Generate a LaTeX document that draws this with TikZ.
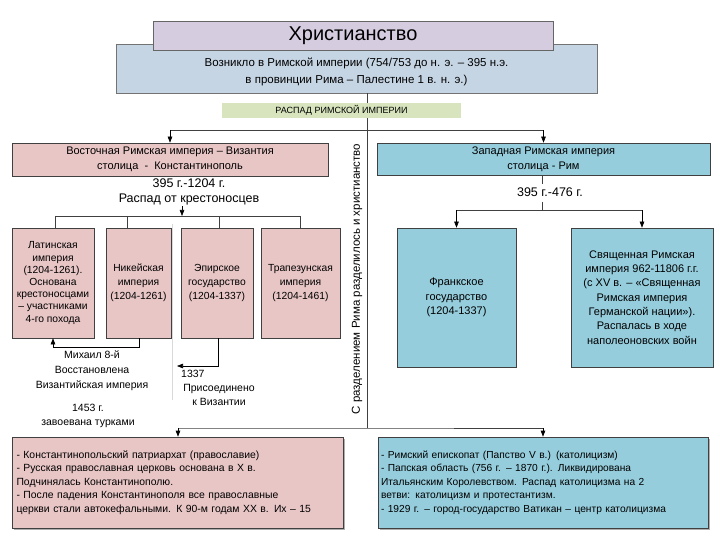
\documentclass[tikz,border=0pt]{standalone}
\usepackage{fontspec}
\setmainfont{Liberation Sans}
\usetikzlibrary{arrows.meta,shadows}
\definecolor{lav}{HTML}{D5CCE0}
\definecolor{topblue}{HTML}{C6D5E4}
\definecolor{grn}{HTML}{D7E4BD}
\definecolor{pnk}{HTML}{E9C6C6}
\definecolor{wblue}{HTML}{95CDDC}
\definecolor{edge}{HTML}{404040}
\begin{document}
\begin{tikzpicture}[x=1pt,y=-1pt,
  box/.style={draw=edge,line width=0.6pt,inner sep=2pt,align=center},
  pinkbox/.style={box,fill=pnk},
  bluebox/.style={box,fill=wblue},
  shadowbox/.style={drop shadow={shadow xshift=2pt,shadow yshift=-2pt,opacity=0.45,fill=black!70}},
  conn/.style={draw=edge,line width=0.6pt},
  arr/.style={draw=black,line width=0.6pt,-{Triangle[length=6pt,width=4.5pt]}},
  lbl/.style={align=center,inner sep=1pt}]
\useasboundingbox (0,0) rectangle (720,540);

% top
\node[box,fill=topblue,draw=black!55,minimum width=481pt,minimum height=49pt] (orig) at (356.5,68.5) {};
\node[lbl,font=\fontsize{11.5}{17}\selectfont] (origtxt) at (356.5,72)
  {Возникло в Римской империи (754/753 до н. э. – 395 н.э.\\в провинции Рима – Палестине 1 в. н. э.)};
\node[box,fill=lav,draw=black!60,minimum width=400pt,minimum height=29pt,
  font=\fontsize{20}{22}\selectfont] (title) at (353,36) {Христианство};

\coordinate (hub) at (367,130);
\coordinate (hubB) at (367,428);
\draw[conn] (orig.south -| hub) -- (hubB);

\node[box,draw=none,fill=grn,minimum width=239pt,minimum height=15pt,
  font=\fontsize{9}{10}\selectfont] (split) at (341.5,110.5) {РАСПАД РИМСКОЙ ИМПЕРИИ};

\node[lbl,rotate=90,font=\fontsize{11.5}{12}\selectfont] (note) at (357,279)
  {С разделением Рима разделилось и христианство};

% east
\node[pinkbox,minimum width=316pt,minimum height=33pt,font=\fontsize{11}{15}\selectfont] (east) at (170,159.5)
  {Восточная Римская империя – Византия\\столица \ - \ Константинополь};
\node[lbl,font=\fontsize{12.5}{15}\selectfont] (edate) at (189,192)
  {395 г.-1204 г.\\Распад от крестоносцев};

% west
\node[bluebox,minimum width=333pt,minimum height=32pt,font=\fontsize{11}{15}\selectfont] (west) at (543.5,159)
  {Западная Римская империя\\столица - Рим};
\node[lbl,font=\fontsize{12.5}{15}\selectfont] (wdate) at (550,192) {395 г.-476 г.};

\draw[conn] (east.north |- hub) -- (west.north |- hub);
\draw[arr] (east.north |- hub) -- (east.north);
\draw[arr] (west.north |- hub) -- (west.north);

% four eastern states
\node[pinkbox,minimum width=82pt,minimum height=110pt,font=\fontsize{10.3}{12.2}\selectfont] (lat) at (53,283)
  {Латинская\\империя\\(1204-1261).\\Основана\\крестоносцами\\– участниками\\4-го похода};
\node[pinkbox,minimum width=65pt,minimum height=110pt,font=\fontsize{10.3}{14}\selectfont] (nic) at (138.5,283)
  {Никейская\\империя\\(1204-1261)};
\node[pinkbox,minimum width=72pt,minimum height=110pt,font=\fontsize{10.3}{14}\selectfont] (epi) at (217,283)
  {Эпирское\\государство\\(1204-1337)};
\node[pinkbox,minimum width=79pt,minimum height=110pt,font=\fontsize{10.3}{14}\selectfont] (tra) at (300.5,283)
  {Трапезунская\\империя\\(1204-1461)};

\coordinate (ebar) at (182,216);
\draw[arr] (edate.south -| ebar) -- (ebar);
\draw[conn] (55,216) -- (300,216);
\draw[conn] (55,216) -- (55,228);
\draw[conn] (127,216) -- (127,228);
\draw[conn] (219,216) -- (219,228);
\draw[conn] (300,216) -- (300,228);

% faint guide line
\draw[black!15,line width=0.5pt] (172,224) -- (172,400);

% Michael VIII
\coordinate (mk) at (139,347);
\draw[arr] (nic.south -| mk) -- (mk) -- (53,347) -- (lat.south -| 53,0);
\node[lbl,font=\fontsize{10.5}{15}\selectfont] (mich) at (92,371)
  {Михаил 8-й\\Восстановлена\\Византийская империя};
\node[lbl,font=\fontsize{10.5}{14}\selectfont] (fall) at (88,416)
  {1453 г.\\завоевана турками};

% Epirus joined
\coordinate (ep) at (218,366);
\draw[arr] (epi.south -| ep) -- (ep) -- (177,366);
\node[lbl,anchor=west,font=\fontsize{10.5}{12}\selectfont] (y1337) at (180,374) {1337};
\node[lbl,font=\fontsize{10.5}{14}\selectfont] (join) at (219,395) {Присоединено\\к Византии};

% western states
\node[bluebox,minimum width=119pt,minimum height=139pt,font=\fontsize{11}{14.5}\selectfont] (fra) at (456.5,297.5)
  {Франкское\\государство\\(1204-1337)};
\node[bluebox,minimum width=142pt,minimum height=139pt,font=\fontsize{11}{14.3}\selectfont] (hre) at (642,297.5)
  {Священная Римская\\империя 962-11806 г.г.\\(с XV в. – «Священная\\Римская империя\\Германской нации»).\\Распалась в ходе\\наполеоновских войн};

\coordinate (wbar) at (542,210);
\draw[conn] (west.south -| wbar) -- (542,184);
\draw[conn] (542,202) -- (wbar);
\draw[conn] (fra.north |- wbar) -- (hre.north |- wbar);
\draw[arr] (fra.north |- wbar) -- (fra.north);
\draw[arr] (hre.north |- wbar) -- (hre.north);

% bottom churches
\node[pinkbox,shadowbox,minimum width=331pt,minimum height=91pt,text width=322pt,align=left,
  font=\fontsize{10.4}{13.5}\selectfont] (orth) at (177.5,482.5)
  {- Константинопольский патриархат (православие)\\
   - Русская православная церковь основана в X в.\\
   Подчинялась Константинополю.\\
   - После падения Константинополя все православные\\
   церкви стали автокефальными. К 90-м годам XX в. Их – 15};
\node[bluebox,shadowbox,minimum width=330pt,minimum height=91pt,text width=324pt,align=left,
  font=\fontsize{10.2}{13.5}\selectfont] (cath) at (543,482.5)
  {- Римский епископат (Папство V в.) (католицизм)\\
   - Папская область (756 г. – 1870 г.). Ликвидирована\\
   Итальянским Королевством. Распад католицизма на 2\\
   ветви: католицизм и протестантизм.\\
   - 1929 г. – город-государство Ватикан – центр католицизма};

\coordinate (lft) at (178,428);
\coordinate (rgt) at (543,428);
\draw[conn] (lft) -- (hubB) -- (rgt);
\draw[arr] (lft) -- (orth.north -| lft);
\draw[arr] (rgt) -- (cath.north);
\end{tikzpicture}
\end{document}
